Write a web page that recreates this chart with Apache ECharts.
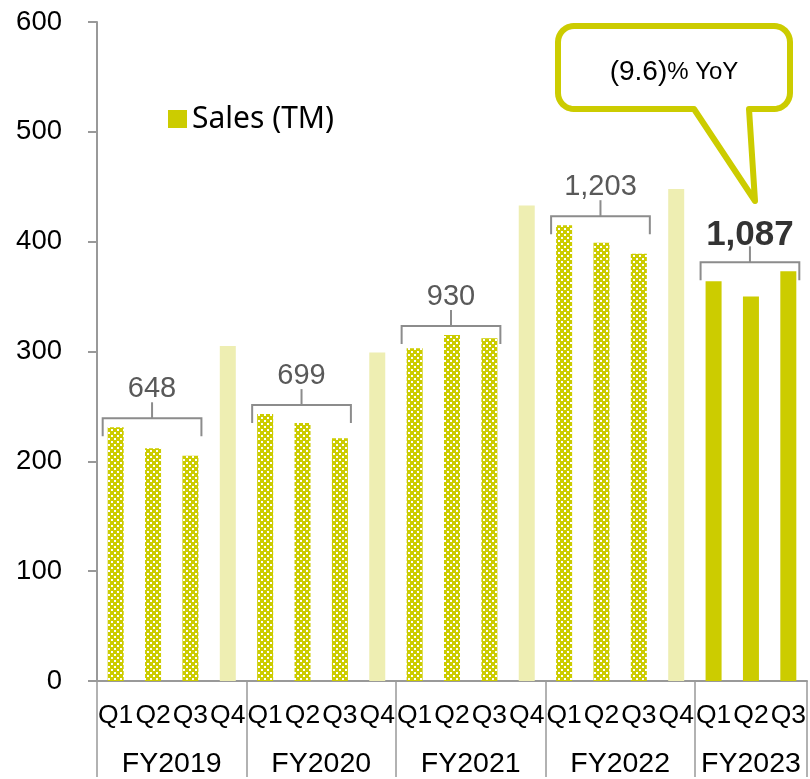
<!DOCTYPE html>
<html>
<head>
<meta charset="utf-8">
<title>Sales (TM)</title>
<script src="https://cdn.jsdelivr.net/npm/echarts@6/dist/echarts.min.js"></script>
<style>
  html, body { margin: 0; padding: 0; background: #fff; }
  #chart { width: 810px; height: 779px; }
</style>
</head>
<body>
<div id="chart"></div>
<script>
'use strict';
// data
var quarters = ['Q1','Q2','Q3','Q4','Q1','Q2','Q3','Q4','Q1','Q2','Q3','Q4','Q1','Q2','Q3','Q4','Q1','Q2','Q3'];
var fiscalYears = ['FY2019','FY2020','FY2021','FY2022','FY2023'];
var quartersPerYear = [4, 4, 4, 4, 3];
var salesValues = [231, 212, 205, 305, 243, 235, 221, 299, 303, 315, 312, 433, 415, 399, 389, 448, 364, 350, 373];
var ytdTotals = [648, 699, 930, 1203, 1087];
var yoyText = ['(9.6)', '% YoY'];

var YELLOW = '#cccc00';
var LIGHT = '#eeeeb2';
var GREY = '#8c8c8c';
var ARIAL = '"Liberation Sans", Arial, sans-serif';

/* yellow pattern with small white holes for Q1-Q3 bars */
var pat = document.createElement('canvas');
pat.width = 6; pat.height = 6;
var pctx = pat.getContext('2d');
pctx.fillStyle = YELLOW;
pctx.fillRect(0, 0, 6, 6);
pctx.fillStyle = '#ffffff';
pctx.fillRect(0, 0, 2, 2);
pctx.fillRect(3, 3, 2, 2);

// group boundaries / centers on the category index scale
var bounds = [0], centers = [], starts = [];
quartersPerYear.forEach(function(n, i) {
  starts.push(bounds[i]);
  centers.push(bounds[i] + n / 2);
  bounds.push(bounds[i] + n);
});

var barData = salesValues.map(function(v, i) {
  var color;
  var g = 0;
  while (i >= bounds[g + 1]) g++;
  if (quarters[i] === 'Q4') color = LIGHT;
  else if (g === fiscalYears.length - 1) color = YELLOW;
  else color = { image: pat, repeat: 'repeat' };
  return { value: v, itemStyle: { color: color } };
});

// bracket data: first idx, third-quarter idx, highest of Q1-Q3, total
var bracketData = ytdTotals.map(function(t, g) {
  var s = starts[g];
  var e = s + 2;
  var top = Math.max.apply(null, salesValues.slice(s, e + 1));
  return [s, e, top, t];
});

function renderBracket(params, api) {
  var s = api.value(0), e = api.value(1), top = api.value(2), total = api.value(3);
  var pl = api.coord([s, top]);
  var pr = api.coord([e, top]);
  var xl = pl[0] - 13, xr = pr[0] + 11;
  var y = pl[1] - 9;
  var xm = (xl + xr) / 2;
  var last = params.dataIndex === fiscalYears.length - 1;
  return {
    type: 'group',
    children: [
      { type: 'polyline', shape: { points: [[xl, y + 18], [xl, y], [xr, y], [xr, y + 18]] },
        style: { stroke: GREY, lineWidth: 2, fill: null } },
      { type: 'line', shape: { x1: xm, y1: y, x2: xm, y2: y - 16 },
        style: { stroke: GREY, lineWidth: 2 } },
      { type: 'text', style: {
          text: total.toLocaleString('en-US'),
          x: xm, y: last ? y - 9 : y - 15,
          align: 'center', verticalAlign: 'bottom',
          font: (last ? 'bold 35px ' : '29px ') + ARIAL,
          fill: last ? '#333333' : '#595959'
      } }
    ]
  };
}

/* speech bubble outline: rounded box with a pointer */
function bubblePoints(x0, y0, x1, y1, r, tip, baseL, baseR) {
  var pts = [];
  function arc(cx, cy, a0) {
    for (var k = 0; k <= 8; k++) {
      var a = a0 + k * Math.PI / 16;
      pts.push([cx + r * Math.cos(a), cy + r * Math.sin(a)]);
    }
  }
  arc(x1 - r, y0 + r, -Math.PI / 2);
  arc(x1 - r, y1 - r, 0);
  pts.push([baseR, y1], tip, [baseL, y1]);
  arc(x0 + r, y1 - r, Math.PI / 2);
  arc(x0 + r, y0 + r, Math.PI);
  return pts;
}

var chart = echarts.init(document.getElementById('chart'));
var option = {
  animation: false,
  backgroundColor: '#fff',
  grid: { left: 97, right: 3, top: 22, bottom: 96 },
  legend: {
    data: ['Sales (TM)'],
    left: 163, top: 99,
    icon: 'rect', itemWidth: 19, itemHeight: 18, itemGap: 5,
    textStyle: { fontSize: 30, fontFamily: '"Noto Sans", sans-serif', color: '#000' }
  },
  xAxis: [{
    type: 'category',
    position: 'bottom',
    data: quarters,
    axisLine: { lineStyle: { color: '#999', width: 2 } },
    axisTick: { interval: 0, length: 48, lineStyle: { color: '#999', width: 1.5 } },
    axisLabel: { interval: 0, margin: 21, fontSize: 26.5, color: '#000', fontFamily: ARIAL }
  }, {
    type: 'value',
    position: 'bottom',
    offset: 0,
    min: 0, max: quarters.length,
    axisLine: { show: false },
    splitLine: { show: false },
    axisTick: { show: true, customValues: bounds, length: 96, lineStyle: { color: '#999', width: 1.5 } },
    axisLabel: {
      customValues: centers, margin: 69, fontSize: 28.5, color: '#000',
      fontFamily: ARIAL,
      formatter: function(v) {
        var i = centers.indexOf(v);
        return i >= 0 ? fiscalYears[i] : '';
      }
    }
  }],
  yAxis: {
    type: 'value',
    min: 0, max: 600, interval: 100,
    axisLine: { show: true, lineStyle: { color: '#999', width: 2 } },
    axisTick: { show: true, length: 9, lineStyle: { color: '#999', width: 2 } },
    splitLine: { show: false },
    axisLabel: { margin: 35, fontSize: 27.5, color: '#000', fontFamily: ARIAL }
  },
  series: [{
    name: 'Sales (TM)',
    type: 'bar',
    barWidth: 16,
    itemStyle: { color: YELLOW },
    data: barData
  }, {
    name: 'brackets',
    type: 'custom',
    renderItem: renderBracket,
    data: bracketData,
    clip: false,
    z: 5
  }],
  graphic: [{
    type: 'polygon',
    shape: { points: bubblePoints(558, 26, 790, 109, 16, [755, 201], 694, 749) },
    style: { fill: '#fff', stroke: YELLOW, lineWidth: 6, lineJoin: 'round' },
    z: 10
  }, {
    type: 'text',
    x: 674, y: 72,
    style: {
      text: '{a|' + yoyText[0] + '}{b|' + yoyText[1] + '}',
      align: 'center', verticalAlign: 'middle',
      rich: {
        a: { fontSize: 28, fontFamily: ARIAL, fill: '#000' },
        b: { fontSize: 24, fontFamily: ARIAL, fill: '#000' }
      }
    },
    z: 11
  }]
};
chart.setOption(option);
window.addEventListener('resize', function() { chart.resize(); });
</script>
</body>
</html>
